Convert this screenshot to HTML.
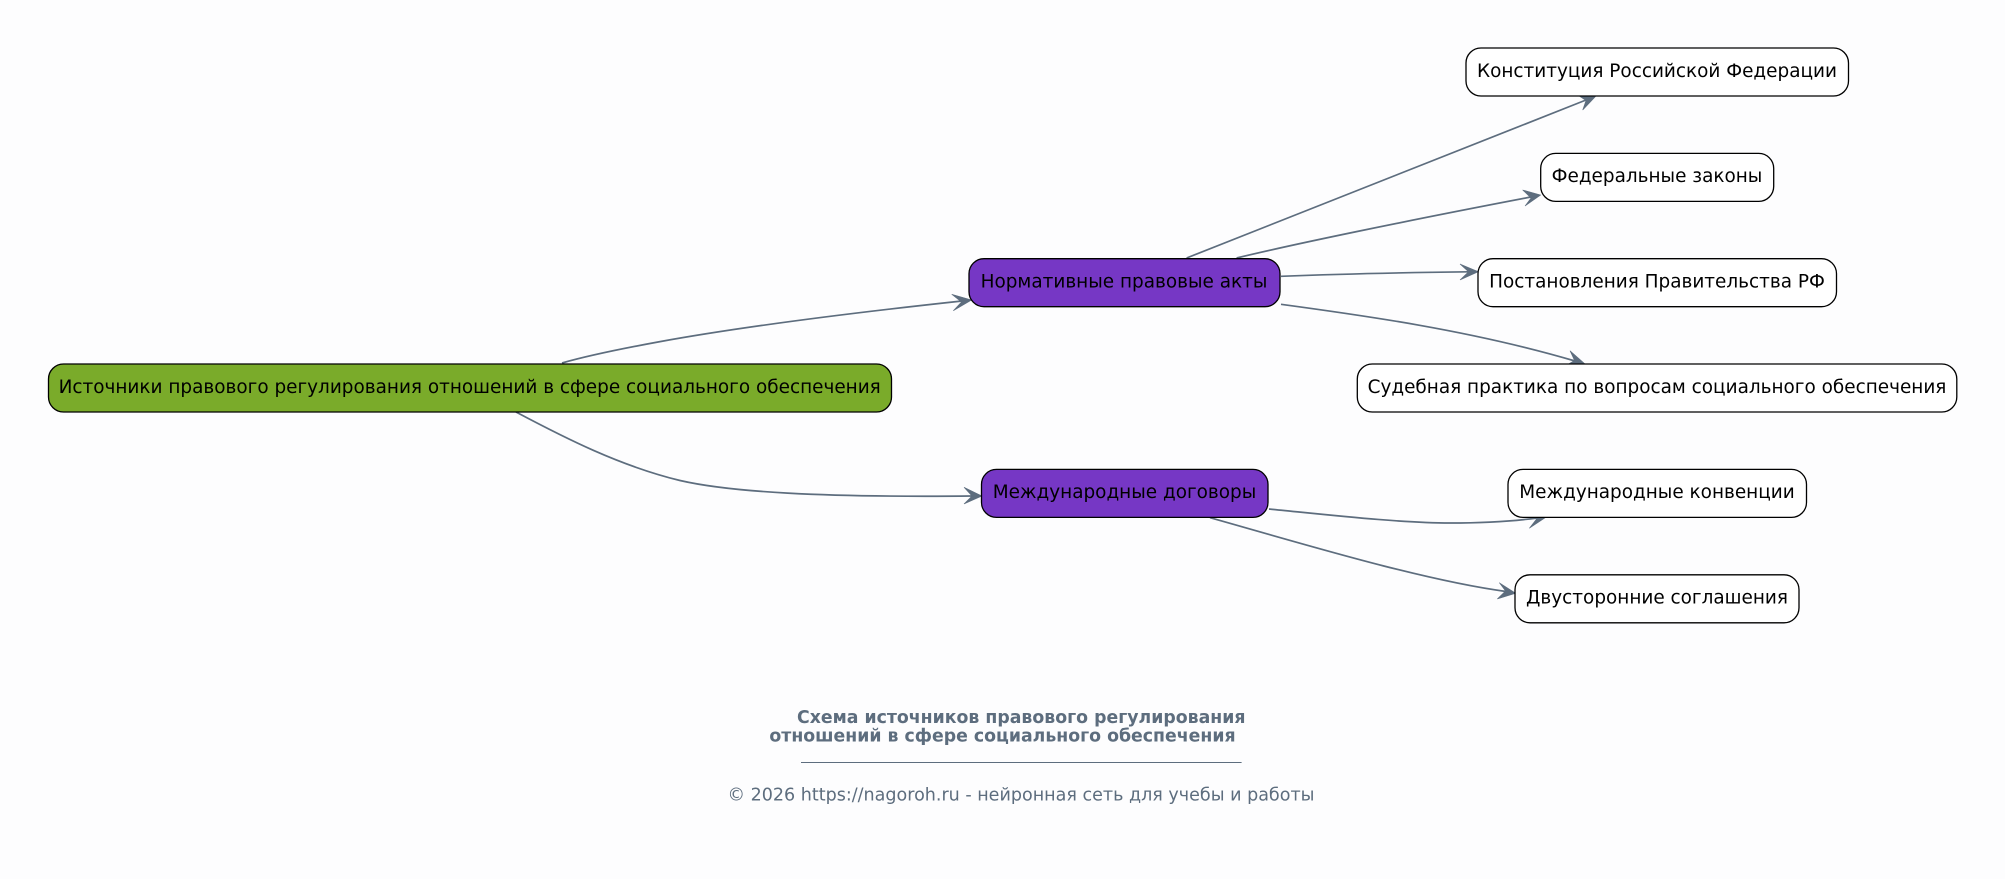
<!DOCTYPE html>
<html lang="ru">
<head>
<meta charset="utf-8">
<title>Схема источников правового регулирования</title>
<style>
html,body{margin:0;padding:0;background:#fdfdfe;}
svg{display:block;}
text{font-family:"DejaVu Sans","Liberation Sans",sans-serif;}
.n{font-size:18.43px;fill:#000;text-anchor:middle;}
.b{stroke:#000;stroke-width:1.3;}
.e{fill:none;stroke:#5d6d7e;stroke-width:1.7;}
.h{fill:#5d6d7e;stroke:#5d6d7e;stroke-width:.6;stroke-linejoin:miter;}
.t{font-size:17.35px;font-weight:bold;fill:#5d6d7e;}
.f{font-size:17.55px;fill:#5d6d7e;}
</style>
</head>
<body>
<svg width="2005" height="879" viewBox="0 0 2005 879" xmlns="http://www.w3.org/2000/svg">
<rect width="2005" height="879" fill="#fdfdfe"/>

<!-- edges -->
<path class="e" d="M562,363 C590,355 620,349 658,342 C740,327 860,312 962,301"/>
<polygon class="h" points="971.7,300 951.7,294.3 961.5,302 953.3,310.7"/>

<path class="e" d="M516,412 C565,438 620,466 680,480.5 C730,492 820,497.5 972,496"/>
<polygon class="h" points="982,496 964,487.3 972,496 964,504"/>

<path class="e" d="M1186.6,258 L1586,100"/>
<polygon class="h" points="1596,96 1576,94 1586,100.5 1582.7,110"/>

<path class="e" d="M1236.6,258 C1290,245 1400,222 1531,197"/>
<polygon class="h" points="1540.7,195 1522.7,190 1531,198 1525,206"/>

<path class="e" d="M1281,276.3 C1340,274 1410,272.5 1468,271.8"/>
<polygon class="h" points="1478.3,271.7 1460,264 1468.5,271.8 1460,280"/>

<path class="e" d="M1281,304.3 C1360,315 1470,330 1575,361"/>
<polygon class="h" points="1585,364 1570,350.7 1574.5,360.5 1565,366"/>

<path class="e" d="M1269,509 C1330,515 1400,523 1450,523 C1490,523 1515,521 1537,518"/>
<polygon class="h" points="1546.7,516.7 1527.3,511.7 1536.5,519 1529.3,528.3"/>

<path class="e" d="M1210,517.7 C1290,540 1420,580 1506,591.5"/>
<polygon class="h" points="1515.7,593.3 1499.3,582.7 1505.5,591 1497.3,599"/>

<!-- nodes -->
<rect class="b" x="48.5" y="364" width="843" height="48" rx="15" fill="#7aab2a"/>
<text class="n" x="469.7" y="393">Источники правового регулирования отношений в сфере социального обеспечения</text>

<rect class="b" x="969" y="258.7" width="311" height="48" rx="15" fill="#7637c5"/>
<text class="n" x="1124" y="287.5">Нормативные правовые акты</text>

<rect class="b" x="981.5" y="469.4" width="286.5" height="48" rx="15" fill="#7637c5"/>
<text class="n" x="1124.5" y="498">Международные договоры</text>

<rect class="b" x="1466" y="48" width="382.5" height="48" rx="15" fill="#fff"/>
<text class="n" x="1657" y="77">Конституция Российской Федерации</text>

<rect class="b" x="1540.7" y="153.4" width="233" height="48" rx="15" fill="#fff"/>
<text class="n" x="1657" y="182">Федеральные законы</text>

<rect class="b" x="1478" y="258.7" width="358.5" height="48" rx="15" fill="#fff"/>
<text class="n" x="1657" y="287.5">Постановления Правительства РФ</text>

<rect class="b" x="1357.3" y="364" width="599.5" height="48" rx="15" fill="#fff"/>
<text class="n" x="1657" y="393">Судебная практика по вопросам социального обеспечения</text>

<rect class="b" x="1508" y="469.4" width="298.5" height="48" rx="15" fill="#fff"/>
<text class="n" x="1657" y="498">Международные конвенции</text>

<rect class="b" x="1515" y="574.8" width="284" height="48" rx="15" fill="#fff"/>
<text class="n" x="1657" y="603.5">Двусторонние соглашения</text>

<!-- footer -->
<text class="t" x="797" y="723" textLength="448.5" lengthAdjust="spacingAndGlyphs">Схема источников правового регулирования</text>
<text class="t" x="769.4" y="741.4" textLength="466.2" lengthAdjust="spacingAndGlyphs">отношений в сфере социального обеспечения</text>
<line x1="801" y1="762.5" x2="1241.6" y2="762.5" stroke="#5d6d7e" stroke-width="1"/>
<text class="f" x="727.5" y="800.3" textLength="587" lengthAdjust="spacingAndGlyphs">© 2026 https://nagoroh.ru - нейронная сеть для учебы и работы</text>
</svg>
</body>
</html>
